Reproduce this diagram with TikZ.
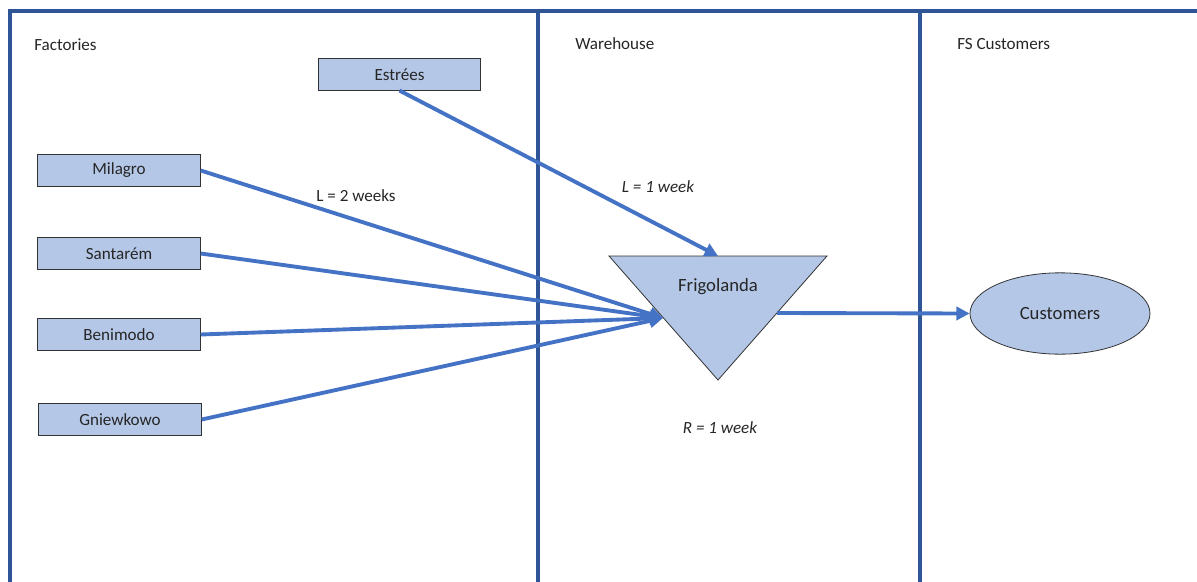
\documentclass[tikz,border=0pt]{standalone}
\usepackage{fontspec}
\setmainfont{Carlito}
\usetikzlibrary{arrows.meta,shapes.geometric}
\definecolor{lane}{HTML}{2F5597}
\definecolor{arrowblue}{HTML}{4472C4}
\definecolor{boxfill}{HTML}{B4C7E7}
\definecolor{txt}{HTML}{262626}
\tikzset{
  lanel/.style={draw=lane, line width=2.6pt},
  fac/.style={draw=black!80, fill=boxfill, line width=0.6pt, minimum width=122pt, minimum height=23.5pt, inner sep=0pt, font=\fontsize{12.8}{15}\selectfont, text=txt},
  flow/.style={draw=arrowblue, line width=2.9pt, -{Triangle[length=10pt,width=10pt]}},
  lbl/.style={font=\fontsize{12.8}{15}\selectfont, text=txt, inner sep=0pt},
}
\begin{document}
\begin{tikzpicture}[x=0.75pt,y=-0.75pt]
\useasboundingbox (0,0) rectangle (1197,582);
% lanes
\draw[lanel] (10,582) -- (10,11) -- (1197,11);
\draw[lanel] (538,11) -- (538,582);
\draw[lanel] (920,11) -- (920,582);
\node[lbl, anchor=west] (tf) at (34,45) {Factories};
\node[lbl, anchor=west] (tw) at (575,44) {Warehouse};
\node[lbl, anchor=west] (tc) at (957,44) {FS Customers};
% factories
\node[fac] (est) at (399.5,74.5) {Estrées};
\node[fac] (mil) at (119,170.5) {Milagro};
\node[fac] (san) at (119,253.5) {Santarém};
\node[fac] (ben) at (119,334.5) {Benimodo};
\node[fac] (gni) at (120,419.5) {Gniewkowo};
% warehouse triangle
\coordinate (tl) at (609,256);
\coordinate (tr) at (827,256);
\coordinate (tb) at (718,380);
\draw[draw=black!80, fill=boxfill, line width=0.6pt] (tl) -- (tr) -- (tb) -- cycle;
\node[lbl, font=\fontsize{14}{16}\selectfont] (frig) at (718,287) {Frigolanda};
\coordinate (inL) at (663,318);
\coordinate (inT) at (718,256);
\coordinate (outR) at (777,313);
% customers
\node[draw=black!80, fill=boxfill, line width=0.6pt, ellipse, minimum width=135pt, minimum height=61pt, inner sep=0pt, font=\fontsize{14}{16}\selectfont, text=txt] (cust) at (1060,313.5) {Customers};
% flows
\draw[flow] (est.south) -- (inT);
\draw[flow] (mil.east) -- (inL);
\draw[flow] (san.east) -- (inL);
\draw[flow] (ben.east) -- (inL);
\draw[flow] (gni.east) -- (inL);
\draw[flow] (outR) -- (cust.west);
% labels
\node[lbl] (l2) at (356,196) {L = 2 weeks};
\node[lbl, font=\fontsize{12.8}{15}\itshape] (l1) at (658,187) {L = 1 week};
\node[lbl, font=\fontsize{12.8}{15}\itshape] (r1) at (720,428) {R = 1 week};
\end{tikzpicture}
\end{document}
